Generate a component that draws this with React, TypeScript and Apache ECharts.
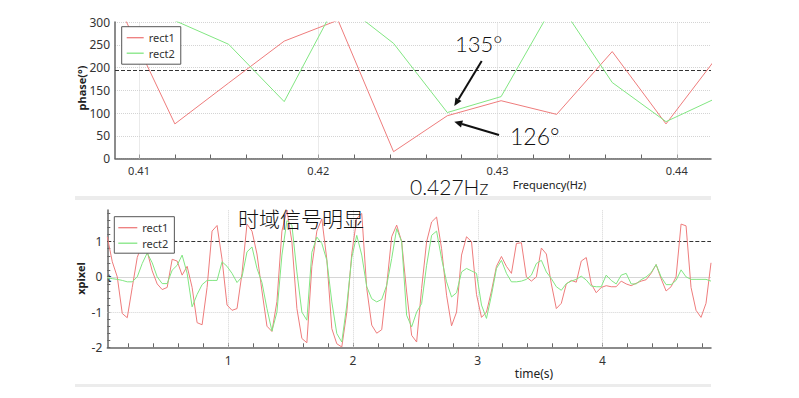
import React, { useEffect, useRef } from 'react';
import * as echarts from 'echarts';

// ---------- Top panel: phase vs frequency ----------
const freqHz = [0.409, 0.412, 0.415, 0.4181, 0.4211, 0.4242, 0.4272, 0.4302, 0.4333, 0.4364, 0.4394, 0.4425];
const phaseRect1 = [325, 76, 166, 258, 304, 15, 94, 127, 97, 235, 76, 236];
const phaseRect2 = [340, 303, 251, 125, 348, 253, 101, 136, 350, 167, 81, 138];
const freqLabelTicks = [0.41, 0.42, 0.43, 0.44];
const freqMinorTicks = [0.41, 0.412, 0.414, 0.416, 0.418, 0.42, 0.422, 0.424, 0.426, 0.428, 0.43, 0.432, 0.434, 0.436, 0.438, 0.44];
const phaseRefLine = 194;

// ---------- Bottom panel: xpixel vs time ----------
const timeStart = 0.03;
const timeStep = 0.04;
const xpixelRect1 = [
  1.14, 0.43, 0.0, -1.04, -1.16, -0.3, 0.55, 0.95, 0.72, 0.17,
  -0.2, -0.36, -0.3, 0.5, 0.45, 0.05, 0.3, -0.3, -1.3, -1.36,
  -0.3, 1.3, 1.46, 0.5, -0.8, -0.95, -0.9, 0.1, 1.5, 1.3,
  0.65, -0.4, -1.4, -1.55, -0.7, 1.3, 1.9, 1.0, -0.9, -1.75,
  -1.87, 0.3, 1.3, 1.65, 0.5, -1.47, -1.9, -1.99, -1.0, 0.66,
  1.66, 1.8, -0.33, -1.37, -1.6, -1.5, -0.24, 1.14, 1.47, 1.0,
  -0.43, -1.66, -1.85, -0.33, 1.0, 1.56, 1.7, 0.8, -0.52, -1.39,
  -1.0, 0.62, 1.14, 1.0, -0.5, -1.15, -1.0, -0.4, 0.3, 0.58,
  0.3, 0.1, 0.95, 0.97, 0.0, -0.12, 0.0, 0.82, 0.65, -0.2,
  -0.9, -0.75, -0.2, -0.1, -0.15, 0.45, 0.55, -0.2, -0.45, -0.3,
  -0.25, -0.28, -0.28, -0.12, -0.2, -0.25, -0.18, -0.12, -0.08, 0.1,
  0.35, -0.05, -0.4, -0.28, 0.0, 1.5, 1.45, -0.3, -0.95, -1.15,
  -0.75, 0.4,
];
const xpixelRect2 = [
  -0.03, -0.05, -0.07, -0.1, -0.14, -0.14, 0.0, 0.38, 0.68, 0.4,
  0.0, -0.19, -0.19, 0.19, 0.33, 0.62, 0.1, -0.85, -0.5, -0.22,
  -0.1, -0.1, -0.1, 0.43, 0.3, 0.1, -0.16, 0.0, 0.71, 0.85,
  0.24, -0.16, -0.9, -1.54, -1.0, 0.62, 1.6, 1.47, 0.14, -1.0,
  -1.23, 0.7, 1.13, 0.95, 0.47, -0.71, -1.61, -1.85, -0.8, 0.55,
  1.18, 0.62, -0.28, -0.62, -0.71, -0.64, -0.24, 0.52, 1.37, 1.0,
  -1.09, -1.42, -1.0, -0.76, 0.33, 1.18, 1.3, 0.52, -0.14, -0.57,
  -0.45, 0.14, 0.24, 0.17, 0.1, -0.8, -1.18, -0.52, 0.24, 0.47,
  0.1, -0.14, -0.14, -0.12, -0.07, 0.05, 0.38, 0.47, 0.14, -0.05,
  -0.28, -0.38, -0.19, -0.12, -0.07, 0.02, -0.09, -0.26, -0.28, -0.28,
  0.05, -0.1, -0.2, 0.05, 0.1, -0.2, -0.2, -0.08, 0.0, 0.12,
  0.35, 0.0, -0.22, -0.22, -0.1, 0.2, 0.0, -0.07, -0.07, -0.07,
  -0.07, -0.12,
];
const timeLabelTicks = [1, 2, 3, 4];
const timeMinorTicks = [0.2, 0.4, 0.6, 0.8, 1, 1.2, 1.4, 1.6, 1.8, 2, 2.2, 2.4, 2.6, 2.8, 3, 3.2, 3.4, 3.6, 3.8, 4, 4.2, 4.4, 4.6, 4.8];
const xpixelLabelTicks = [-2, -1, 0, 1];
const xpixelMinorTicks = [-2, -1.8, -1.6, -1.4, -1.2, -1, -0.8, -0.6, -0.4, -0.2, 0, 0.2, 0.4, 0.6, 0.8, 1, 1.2, 1.4, 1.6, 1.8];
const xpixelRefLine = 1;

const seriesNames = ['rect1', 'rect2'];

const RED = '#ee7c7c';
const GREEN = '#82e682';
const AXIS = '#666';
const LABEL = '#333';
const FONT = '"Noto Sans", "Open Sans", sans-serif';
const THIN = 'Lato, "Open Sans", sans-serif';

const gridDot = { type: 'dotted', color: '#d4d4d4', width: 1 };
const refDash = { type: 'dashed', color: '#333', width: 1 };

function markLines(items: any[], z = 1) {
  return {
    silent: true,
    symbol: ['none', 'none'],
    label: { show: false },
    emphasis: { disabled: true },
    animation: false,
    z,
    data: items,
  };
}

function buildOption() {
  const times = xpixelRect1.map((_, i) => +(timeStart + i * timeStep).toFixed(3));
  const legendCommon = {
    orient: 'vertical',
    backgroundColor: '#fff',
    borderColor: '#555',
    borderWidth: 1,
    borderRadius: 0,
    icon: 'rect',
    itemWidth: 17,
    itemHeight: 1.3,
    itemGap: 1.5,
    selectedMode: false,
    textStyle: { fontSize: 11, color: LABEL, fontFamily: FONT, lineHeight: 14 },
    data: seriesNames,
    z: 10,
  };
  return {
    animation: false,
    backgroundColor: '#fff',
    grid: [
      { left: 115, top: 22, width: 596, height: 136.5 },
      { left: 107.3, top: 210, width: 603.7, height: 137.3 },
    ],
    legend: [
      { ...legendCommon, left: 121.7, top: 26.7, padding: [4, 6, 4, 5] },
      { ...legendCommon, left: 114.3, top: 216.7, padding: [4, 6, 3, 4], itemWidth: 19 },
    ],
    xAxis: [
      {
        type: 'value', gridIndex: 0, min: 0.40866, max: 0.44191,
        axisLine: { onZero: false, lineStyle: { color: AXIS, width: 1.5 } },
        axisTick: { show: true, inside: true, length: 4, customValues: freqMinorTicks, lineStyle: { color: AXIS } },
        axisLabel: { customValues: freqLabelTicks, formatter: (v: number) => v.toFixed(2), fontSize: 11, color: LABEL, fontFamily: FONT, margin: 6 },
        splitLine: { show: false },
      },
      {
        type: 'value', gridIndex: 1, min: 0.03, max: 4.87,
        axisLine: { onZero: false, lineStyle: { color: AXIS, width: 1.5 } },
        axisTick: { show: true, inside: true, length: 4, customValues: timeMinorTicks, lineStyle: { color: AXIS } },
        axisLabel: { customValues: timeLabelTicks, fontSize: 12, color: LABEL, fontFamily: FONT, margin: 7 },
        splitLine: { show: false },
      },
    ],
    yAxis: [
      {
        type: 'value', gridIndex: 0, min: 0, max: 300, interval: 50,
        axisLine: { show: true, onZero: false, lineStyle: { color: AXIS, width: 1.5 } },
        axisTick: { show: false },
        axisLabel: { fontSize: 12, color: LABEL, fontFamily: FONT, margin: 5 },
        splitLine: { show: true, lineStyle: gridDot },
      },
      {
        type: 'value', gridIndex: 1, min: -2, max: 1.9,
        axisLine: { show: true, onZero: false, lineStyle: { color: AXIS, width: 1.5 } },
        axisTick: { show: true, inside: true, length: 3, customValues: xpixelMinorTicks, lineStyle: { color: AXIS } },
        axisLabel: { customValues: xpixelLabelTicks, fontSize: 12, color: LABEL, fontFamily: FONT, margin: 5 },
        splitLine: { show: false },
      },
    ],
    series: [
      {
        name: '_grid0', type: 'line', xAxisIndex: 0, yAxisIndex: 0, data: [], silent: true,
        markLine: markLines(freqLabelTicks.map((v) => ({ xAxis: v, lineStyle: gridDot }))),
      },
      {
        name: '_ref0', type: 'line', xAxisIndex: 0, yAxisIndex: 0, data: [], silent: true,
        markLine: markLines([{ yAxis: phaseRefLine, lineStyle: refDash }], 3),
      },
      {
        name: '_grid1', type: 'line', xAxisIndex: 1, yAxisIndex: 1, data: [], silent: true,
        markLine: markLines([
          ...timeLabelTicks.map((v) => ({ xAxis: v, lineStyle: gridDot })),
          { yAxis: -1, lineStyle: gridDot },
          { yAxis: 0, lineStyle: { type: 'solid', color: '#d6d6d6', width: 1 } },
        ]),
      },
      {
        name: '_ref1', type: 'line', xAxisIndex: 1, yAxisIndex: 1, data: [], silent: true,
        markLine: markLines([{ yAxis: xpixelRefLine, lineStyle: refDash }], 3),
      },
      {
        name: 'rect1', type: 'line', xAxisIndex: 0, yAxisIndex: 0, symbol: 'none', clip: true,
        lineStyle: { color: RED, width: 1 }, itemStyle: { color: RED },
        data: freqHz.map((f, i) => [f, phaseRect1[i]]),
      },
      {
        name: 'rect2', type: 'line', xAxisIndex: 0, yAxisIndex: 0, symbol: 'none', clip: true,
        lineStyle: { color: GREEN, width: 1 }, itemStyle: { color: GREEN },
        data: freqHz.map((f, i) => [f, phaseRect2[i]]),
      },
      {
        name: 'rect1', type: 'line', xAxisIndex: 1, yAxisIndex: 1, symbol: 'none', clip: true,
        lineStyle: { color: RED, width: 1 }, itemStyle: { color: RED },
        data: times.map((t, i) => [t, xpixelRect1[i]]),
      },
      {
        name: 'rect2', type: 'line', xAxisIndex: 1, yAxisIndex: 1, symbol: 'none', clip: true,
        lineStyle: { color: GREEN, width: 1 }, itemStyle: { color: GREEN },
        data: times.map((t, i) => [t, xpixelRect2[i]]),
      },
    ],
    graphic: [
      { type: 'rect', shape: { x: 75, y: 196, width: 636, height: 4 }, style: { fill: '#ececec' }, silent: true },
      { type: 'rect', shape: { x: 75, y: 384, width: 636, height: 3 }, style: { fill: '#ececec' }, silent: true },
      // axis names
      { type: 'text', x: 81, y: 88, rotation: Math.PI / 2, style: { text: 'phase(°)', font: `bold 11px ${FONT}`, fill: '#222', align: 'center', verticalAlign: 'middle' } },
      { type: 'text', x: 512.7, y: 184.5, style: { text: 'Frequency(Hz)', font: `11px ${FONT}`, fill: '#222', align: 'left', verticalAlign: 'middle' } },
      { type: 'text', x: 80.5, y: 278.5, rotation: Math.PI / 2, style: { text: 'xpixel', font: `bold 11px ${FONT}`, fill: '#222', align: 'center', verticalAlign: 'middle' } },
      { type: 'text', x: 534, y: 373, style: { text: 'time(s)', font: `12px ${FONT}`, fill: '#222', align: 'center', verticalAlign: 'middle' } },
      { type: 'text', x: 107, y: 277.5, style: { text: 't', font: `bold 10px ${FONT}`, fill: '#333', align: 'left', verticalAlign: 'middle' } },
      // annotations
      { type: 'text', x: 455, y: 43, z: 20, style: { text: '135°', font: `300 22px ${THIN}`, fill: '#111', align: 'left', verticalAlign: 'middle' } },
      { type: 'text', x: 510, y: 135.5, z: 20, style: { text: '126°', font: `300 23px ${THIN}`, fill: '#111', align: 'left', verticalAlign: 'middle' } },
      { type: 'text', x: 410, y: 186, z: 20, style: { text: '0.427Hz', font: `300 21px ${THIN}`, fill: '#111', align: 'left', verticalAlign: 'middle' } },
      { type: 'text', x: 238, y: 217.5, z: 20, style: { text: '时域信号明显', font: `300 21px "Noto Sans CJK SC", sans-serif`, fill: '#111', align: 'left', verticalAlign: 'middle' } },
      { type: 'line', z: 20, shape: { x1: 481.7, y1: 61, x2: 458.5, y2: 99.2 }, style: { stroke: '#111', lineWidth: 2 } },
      { type: 'polygon', z: 20, shape: { points: [[454.3, 106], [461.5, 101], [455.5, 97.4]] }, style: { fill: '#111' } },
      { type: 'line', z: 20, shape: { x1: 499, y1: 135, x2: 462, y2: 124 }, style: { stroke: '#111', lineWidth: 2 } },
      { type: 'polygon', z: 20, shape: { points: [[454.3, 121.7], [463, 120.6], [461, 127.4]] }, style: { fill: '#111' } },
    ],
  };
}

export default function App() {
  const ref = useRef<HTMLDivElement>(null);
  useEffect(() => {
    if (!ref.current) return;
    const chart = echarts.init(ref.current, null, { renderer: 'svg' });
    chart.setOption(buildOption() as any);
    return () => chart.dispose();
  }, []);
  return (
    <div
      ref={ref}
      style={{ position: 'fixed', left: 0, top: 0, width: 799, height: 398, background: '#fff' }}
    />
  );
}
